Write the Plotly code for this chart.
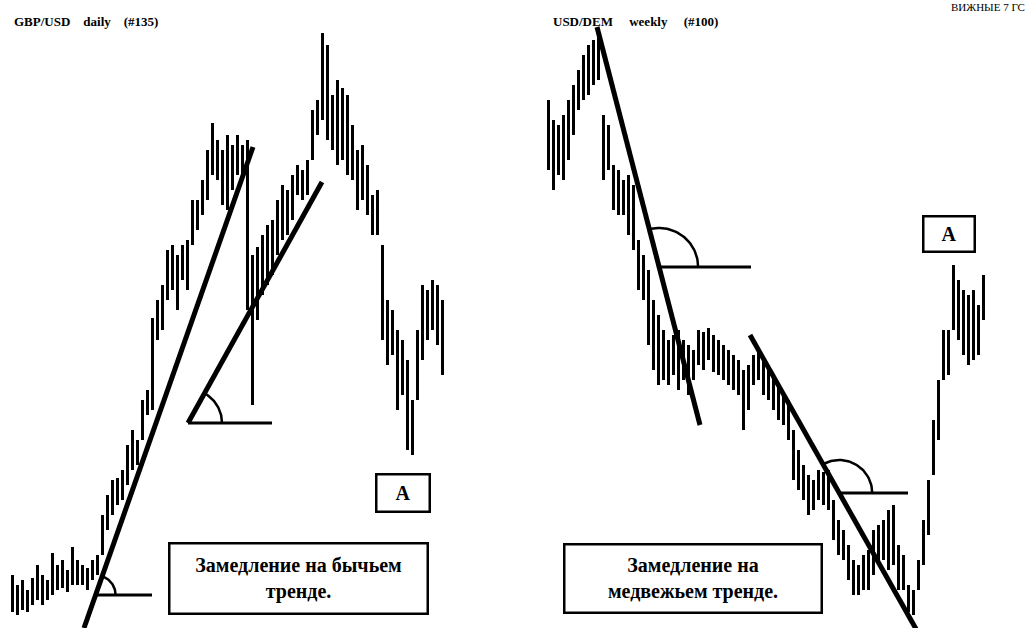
import math
import plotly.graph_objects as go

W, H = 1028, 628
PX_PER_BAR = 5  # horizontal spacing of bars on both panels

# ---- GBP/USD daily: bar highs and lows (price levels) ----
gbp_high = [53, 43, 48, 38, 50, 63, 53, 48, 75, 63, 68, 58, 81, 68, 63, 60, 68, 73,
            113, 133, 148, 150, 158, 183, 198, 188, 228, 238, 310, 328, 343, 378, 383, 373,
            383, 388, 428, 428, 448, 478, 505, 488, 478, 493, 483, 493, 483, 488, 373, 381,
            393, 403, 408, 428, 443, 438, 453, 463, 458, 468, 518, 528, 595, 583, 533, 548,
            540, 533, 503, 478, 483, 463, 433, 438, 383, 328, 318, 298, 288, 268, 228, 298,
            343, 338, 348, 343, 328]
gbp_low = [16, 13, 18, 16, 23, 28, 23, 28, 33, 38, 40, 36, 43, 43, 43, 38, 48, 53,
           73, 98, 113, 123, 128, 143, 158, 163, 188, 213, 218, 288, 298, 328, 338, 318,
           348, 338, 383, 398, 413, 428, 453, 448, 423, 418, 438, 453, 448, 318, 223, 308,
           333, 343, 353, 373, 388, 393, 408, 433, 428, 433, 468, 493, 508, 488, 478, 463,
           468, 453, 448, 418, 428, 413, 393, 393, 288, 263, 273, 218, 233, 178, 173, 228,
           268, 288, 298, 283, 253]

# ---- USD/DEM weekly: bar highs and lows (price levels) ----
dem_high = [528, 508, 503, 513, 528, 543, 558, 573, 583, 588, 600, 513, 503, 463, 458, 448,
            453, 443, 388, 373, 358, 328, 313, 298, 288, 293, 298, 288, 283, 278, 298, 296,
            300, 293, 288, 283, 278, 273, 268, 258, 263, 273, 278, 268, 263, 253, 243, 233,
            228, 198, 178, 163, 153, 148, 158, 156, 158, 128, 108, 98, 83, 68, 63, 73,
            78, 98, 103, 108, 118, 123, 83, 73, 43, 38, 68, 108, 148, 208, 248, 298,
            298, 363, 348, 338, 333, 338, 323, 353]
dem_low = [458, 438, 453, 448, 468, 493, 518, 528, 533, 543, 548, 448, 458, 418, 413, 413,
           393, 378, 338, 328, 283, 258, 243, 248, 243, 253, 238, 248, 233, 248, 263, 258,
           268, 256, 253, 248, 243, 238, 233, 198, 218, 243, 248, 233, 228, 218, 208, 203,
           188, 148, 138, 128, 113, 118, 128, 123, 118, 88, 73, 68, 48, 33, 33, 38,
           38, 53, 63, 68, 58, 63, 38, 38, 16, 13, 38, 63, 93, 153, 188, 248,
           253, 298, 288, 273, 263, 268, 273, 308]

# ---- trend lines: (bar index, price) end points ----
gbp_trend_main = [(14.4, 0), (48.2, 481)]
gbp_trend_slow = [(35.2, 205), (62.0, 446)]
dem_trend_main = [(9.8, 601), (30.4, 203)]
dem_trend_slow = [(40.4, 293), (74.4, -8)]

# horizontal reference for each angle: (price level, end bar index, arc radius in px)
gbp_angle_main = (33, 28.0, 20)
gbp_angle_slow = (205, 52.0, 34)
dem_angle_main = (361, 40.6, 39)
dem_angle_slow = (135, 72.0, 33)

INK = "black"
SERIF = "Liberation Serif"

fig = go.Figure()


def add_bars(high, low, xa, ya):
    idx = list(range(len(high)))
    fig.add_trace(go.Bar(
        x=idx, base=low, y=[h - l for h, l in zip(high, low)],
        width=0.7, marker=dict(color=INK, line=dict(width=0)),
        xaxis=xa, yaxis=ya, hoverinfo="skip"))


def add_trend(pts, xa, ya, width=5):
    fig.add_trace(go.Scatter(
        x=[p[0] for p in pts], y=[p[1] for p in pts], mode="lines",
        line=dict(color=INK, width=width), xaxis=xa, yaxis=ya, hoverinfo="skip"))


def add_angle(pts, spec, xa, ya):
    level, x_end, r = spec
    (x0, y0), (x1, y1) = pts
    # point where the trend line crosses the horizontal level
    t = (level - y0) / (y1 - y0)
    cx = x0 + t * (x1 - x0)
    # direction of the upward part of the trend line, in screen pixels
    if y1 > y0:
        dx, dy = (x1 - x0) * PX_PER_BAR, y1 - y0
    else:
        dx, dy = (x0 - x1) * PX_PER_BAR, y0 - y1
    ang = math.atan2(dy, dx)
    fig.add_trace(go.Scatter(
        x=[cx, x_end], y=[level, level], mode="lines",
        line=dict(color=INK, width=3), xaxis=xa, yaxis=ya, hoverinfo="skip"))
    n = 40
    ax = [cx + r * math.cos(ang * k / n) / PX_PER_BAR for k in range(n + 1)]
    ay = [level + r * math.sin(ang * k / n) for k in range(n + 1)]
    fig.add_trace(go.Scatter(
        x=ax, y=ay, mode="lines", line=dict(color=INK, width=2.5),
        xaxis=xa, yaxis=ya, hoverinfo="skip"))


add_bars(gbp_high, gbp_low, "x", "y")
add_bars(dem_high, dem_low, "x2", "y2")
add_trend(gbp_trend_main, "x", "y")
add_trend(gbp_trend_slow, "x", "y")
add_trend(dem_trend_main, "x2", "y2")
add_trend(dem_trend_slow, "x2", "y2")
add_angle(gbp_trend_main, gbp_angle_main, "x", "y")
add_angle(gbp_trend_slow, gbp_angle_slow, "x", "y")
add_angle(dem_trend_main, dem_angle_main, "x2", "y2")
add_angle(dem_trend_slow, dem_angle_slow, "x2", "y2")


def px(x):
    return x / W


def py(y):
    return 1 - y / H


def boxed(text, x0, y0, x1, y1, size):
    fig.add_annotation(
        x=px((x0 + x1) / 2), y=py((y0 + y1) / 2), xref="paper", yref="paper",
        xanchor="center", yanchor="middle", text=text, showarrow=False,
        width=x1 - x0 - 4, height=y1 - y0 - 4, borderpad=0, borderwidth=2.5,
        bordercolor=INK, bgcolor="white",
        font=dict(family=SERIF, size=size, color=INK))


boxed("<b>Замедление на бычьем<br>тренде.</b>", 168, 542, 428, 614, 20)
boxed("<b>Замедление на<br>медвежьем тренде.</b>", 563, 543, 822, 613, 20)
boxed("<b>A</b>", 375, 473, 430, 512, 20)
boxed("<b>A</b>", 922, 215, 975, 252, 20)

fig.add_annotation(x=px(12), y=py(22), xref="paper", yref="paper", xanchor="left",
                   yanchor="middle", showarrow=False,
                   text="<b>GBP/USD    daily    (#135)</b>",
                   font=dict(family=SERIF, size=13, color=INK))
fig.add_annotation(x=px(551), y=py(21), xref="paper", yref="paper", xanchor="left",
                   yanchor="middle", showarrow=False,
                   text="<b>USD/DEM     weekly     (#100)</b>",
                   font=dict(family=SERIF, size=13, color=INK))
# running page header in the top-right corner
fig.add_annotation(x=px(1026), y=1, xref="paper", yref="paper", xanchor="right",
                   yanchor="top", showarrow=False, borderpad=0,
                   text="ВИЖНЫЕ 7 ГС",
                   font=dict(family=SERIF, size=11, color=INK))

axis_off = dict(visible=False, showgrid=False, zeroline=False, fixedrange=True)
fig.update_layout(
    width=W, height=H, margin=dict(l=0, r=0, t=0, b=0),
    paper_bgcolor="white", plot_bgcolor="white", showlegend=False,
    bargap=0,
    xaxis=dict(domain=[px(9.5), px(444.5)], range=[-0.5, len(gbp_high) - 0.5], **axis_off),
    yaxis=dict(domain=[0, 1], range=[0, H], anchor="x", **axis_off),
    xaxis2=dict(domain=[px(545.5), px(985.5)], range=[-0.5, len(dem_high) - 0.5],
                anchor="y2", **axis_off),
    yaxis2=dict(domain=[0, 1], range=[0, H], anchor="x2", **axis_off),
)

fig.write_html("out.html")
